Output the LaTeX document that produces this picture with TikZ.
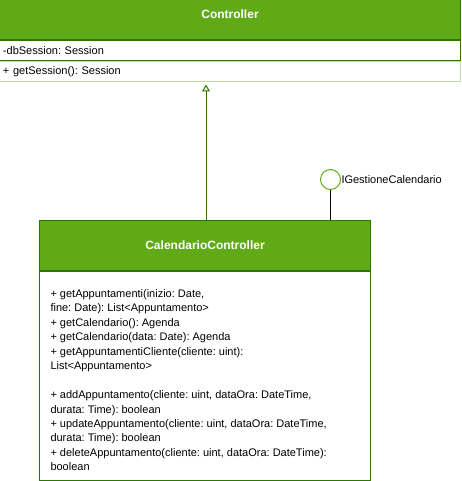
\documentclass[tikz,border=0pt]{standalone}
\usepackage{fontspec}
\setmainfont{Liberation Sans}
\usetikzlibrary{arrows.meta}
\definecolor{umlgreen}{HTML}{60A917}
\definecolor{umldark}{HTML}{2D7600}
\definecolor{umllight}{HTML}{B9E0A5}
\frenchspacing
\begin{document}
\begin{tikzpicture}[x=1bp,y=-1bp,line width=1bp]
\tikzstyle{every node}+=[inner sep=0pt,font=\fontsize{11bp}{14.45bp}\selectfont]
\tikzstyle{head}=[draw=umldark,fill=umlgreen,text=white,font=\fontsize{12bp}{14bp}\selectfont\bfseries]
\tikzstyle{row}=[draw=umldark,fill=white,anchor=north,minimum width=460bp,minimum height=20bp,text width=454bp,inner xsep=3bp,align=left]
\useasboundingbox (0,0) rectangle (462,481);
\node [head,minimum width=460bp,minimum height=40bp] (ctrl) at (230,20) {};
\node [text=white,font=\fontsize{12bp}{14bp}\selectfont\bfseries] (ctrltitle) at (230,14) {Controller};
\node [row] (attr) at (ctrl.south) {-dbSession: Session};
\node [row,draw=umllight] (ctrlop) at (attr.south) {+ getSession(): Session};
\node [head,minimum width=330bp,minimum height=50bp] (calhead) at (205,245) {CalendarioController};
\node [draw=umldark,fill=white,minimum width=330bp,minimum height=209bp,anchor=north] (calbody) at (calhead.south) {};
\node [anchor=north west,align=left] (calops) at (50,289) {+ getAppuntamenti(inizio: Date,\\
fine: Date): List<Appuntamento>\\
+ getCalendario(): Agenda\\
+ getCalendario(data: Date): Agenda\\
+ getAppuntamentiCliente(cliente: uint):\\
List<Appuntamento>\\[14.45bp]
+ addAppuntamento(cliente: uint, dataOra: DateTime,\\
durata: Time): boolean\\
+ updateAppuntamento(cliente: uint, dataOra: DateTime,\\
durata: Time): boolean\\
+ deleteAppuntamento(cliente: uint, dataOra: DateTime):\\
boolean};
\node [circle,draw=umlgreen,fill=white,minimum size=20bp] (iface) at (330.5,179.5) {};
\node [anchor=west] (ifacelbl) at (iface.east) {IGestioneCalendario};
\draw (iface) -- (iface |- calhead.north);
\coordinate (gen) at (206,220);
\draw [umldark,-{Triangle[open,length=7bp,width=8bp]},shorten >=2bp] (gen) -- (gen |- ctrlop.south);
\end{tikzpicture}
\end{document}
